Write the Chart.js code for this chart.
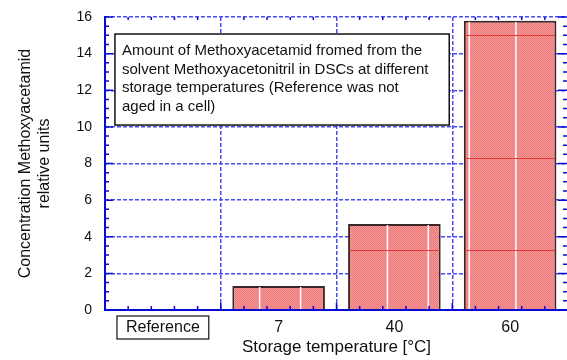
<!DOCTYPE html>
<html>
<head>
<meta charset="utf-8">
<title>Methoxyacetamid concentration</title>
<style>
  html, body { margin: 0; padding: 0; background: #fff; overflow: hidden; }
  #wrap { position: relative; width: 580px; height: 360px; }
</style>
<script src="https://cdn.jsdelivr.net/npm/chart.js"></script>
</head>
<body>
<div id="wrap"><canvas id="chart"></canvas></div>
<script>
const categories = ['Reference', '7', '40', '60'];
const concentration = [null, 1.31, 4.69, 15.8];
const yMin = 0, yMax = 16, yStep = 2;
const note = [
  'Amount of Methoxyacetamid fromed from the',
  'solvent Methoxyacetonitril in DSCs at different',
  'storage temperatures (Reference was not',
  'aged in a cell)'
];

const AXIS = '#0a0ad8';
const GRID = '#4b4bf2';
const FONT = "'Liberation Sans', Arial, sans-serif";

// checkered pink fill like the original hatch
function checker() {
  const c = document.createElement('canvas');
  c.width = 2; c.height = 2;
  const g = c.getContext('2d');
  g.fillStyle = '#f39696';
  g.fillRect(0, 0, 2, 2);
  g.fillStyle = '#ee7a7a';
  g.fillRect(0, 0, 1, 1);
  g.fillRect(1, 1, 1, 1);
  return document.getElementById('chart').getContext('2d').createPattern(c, 'repeat');
}

// streaks seen inside the bars of the original (data units)
const streakX = [0.836, 1.19, 1.94, 2.293, 2.647, 3.05];
const streakY = [15.0, 8.3, 3.3];

const frame = {
  id: 'frame',
  afterDatasetsDraw(chart) {
    const { ctx, chartArea: a, scales: { x, y } } = chart;
    ctx.save();

    // streaks clipped to each bar
    chart.getDatasetMeta(0).data.forEach(bar => {
      if (!bar || isNaN(bar.y)) return;
      const half = bar.width / 2;
      const l = bar.x - half + 1, r = bar.x + half - 1, t = bar.y + 1, b = bar.base;
      ctx.save();
      ctx.beginPath();
      ctx.rect(l, t, r - l, b - t);
      ctx.clip();
      ctx.strokeStyle = '#ffffff';
      ctx.lineWidth = 1.5;
      ctx.beginPath();
      streakX.forEach(v => {
        const px = x.getPixelForValue(v);
        ctx.moveTo(px, t); ctx.lineTo(px, b);
      });
      ctx.stroke();
      ctx.strokeStyle = '#e23a3a';
      ctx.lineWidth = 1;
      ctx.beginPath();
      streakY.forEach(v => {
        const py = Math.round(y.getPixelForValue(v)) + 0.5;
        ctx.moveTo(l, py); ctx.lineTo(r, py);
      });
      ctx.stroke();
      ctx.restore();
    });

    // tick marks pointing inward
    ctx.strokeStyle = AXIS;
    ctx.lineWidth = 1.5;
    ctx.beginPath();
    for (let v = yMin; v <= yMax; v += 0.5) {
      const py = y.getPixelForValue(v);
      const major = v % yStep === 0;
      ctx.moveTo(a.left, py); ctx.lineTo(a.left + (major ? 8 : 4), py);
      ctx.moveTo(a.right, py); ctx.lineTo(a.right - (major ? 10 : 5), py);
    }
    for (let i = 0; i < categories.length; i++) {
      for (let k = 1; k < 5; k++) {
        const px = x.getPixelForValue(i - 0.5 + k / 5);
        ctx.moveTo(px, a.bottom); ctx.lineTo(px, a.bottom - 4);
        ctx.moveTo(px, a.top); ctx.lineTo(px, a.top + 3);
      }
      const pb = x.getPixelForValue(i + 0.5);
      ctx.moveTo(pb, a.bottom); ctx.lineTo(pb, a.bottom - 7);
    }
    ctx.stroke();

    // solid left and bottom axes
    ctx.lineWidth = 2;
    ctx.beginPath();
    ctx.moveTo(a.left, a.top - 1);
    ctx.lineTo(a.left, a.bottom);
    ctx.lineTo(a.right, a.bottom);
    ctx.stroke();

    // annotation box
    const bl = x.getPixelForValue(-0.414), br = x.getPixelForValue(2.474);
    const bt = y.getPixelForValue(15.07), bb = y.getPixelForValue(10.1);
    ctx.fillStyle = '#fff';
    ctx.fillRect(bl, bt, br - bl, bb - bt);
    ctx.strokeStyle = '#111';
    ctx.lineWidth = 1.5;
    ctx.strokeRect(bl, bt, br - bl, bb - bt);
    ctx.fillStyle = '#111';
    ctx.font = '15px ' + FONT;
    ctx.textAlign = 'left';
    ctx.textBaseline = 'middle';
    note.forEach((line, i) => ctx.fillText(line, bl + 7, bt + 17 + i * 18.5));

    // box around the "Reference" category label
    ctx.font = '16px ' + FONT;
    const cx = x.getPixelForValue(0);
    const w = ctx.measureText(categories[0]).width;
    ctx.lineWidth = 1.2;
    ctx.strokeRect(cx - w / 2 - 9, a.bottom + 6, w + 18, 23);

    ctx.restore();
  }
};

new Chart(document.getElementById('chart'), {
  type: 'bar',
  data: {
    labels: categories,
    datasets: [{
      data: concentration,
      backgroundColor: checker(),
      borderColor: '#3a2626',
      borderWidth: 2,
      barPercentage: 0.8,
      categoryPercentage: 1.0
    }]
  },
  options: {
    responsive: true,
    maintainAspectRatio: false,
    animation: false,
    layout: { padding: { top: 17, right: 12, left: 0, bottom: 0 } },
    plugins: { legend: { display: false }, tooltip: { enabled: false } },
    scales: {
      x: {
        afterFit: s => { s.height = 50; s.paddingLeft = 0; s.paddingRight = 0; },
        grid: { offset: true, color: GRID, lineWidth: 1.5, drawTicks: false },
        border: { display: false, dash: [4, 2] },
        ticks: { color: '#111', padding: 8, font: { family: FONT, size: 16 } },
        title: {
          display: true,
          text: 'Storage temperature [°C]',
          color: '#111',
          font: { family: FONT, size: 17 },
          padding: { top: 0, bottom: 2 }
        }
      },
      y: {
        min: yMin,
        max: yMax,
        afterFit: s => { s.width = 105; s.paddingTop = 0; s.paddingBottom = 0; },
        grid: { color: GRID, lineWidth: 1.5, drawTicks: false },
        border: { display: false, dash: [4, 2] },
        ticks: { stepSize: yStep, color: '#111', padding: 13, font: { family: FONT, size: 14 } },
        title: {
          display: true,
          text: ['Concentration Methoxyacetamid', 'relative units'],
          color: '#111',
          font: { family: FONT, size: 16 },
          padding: { top: 16, bottom: 0 }
        }
      }
    }
  },
  plugins: [frame]
});
</script>
</body>
</html>
